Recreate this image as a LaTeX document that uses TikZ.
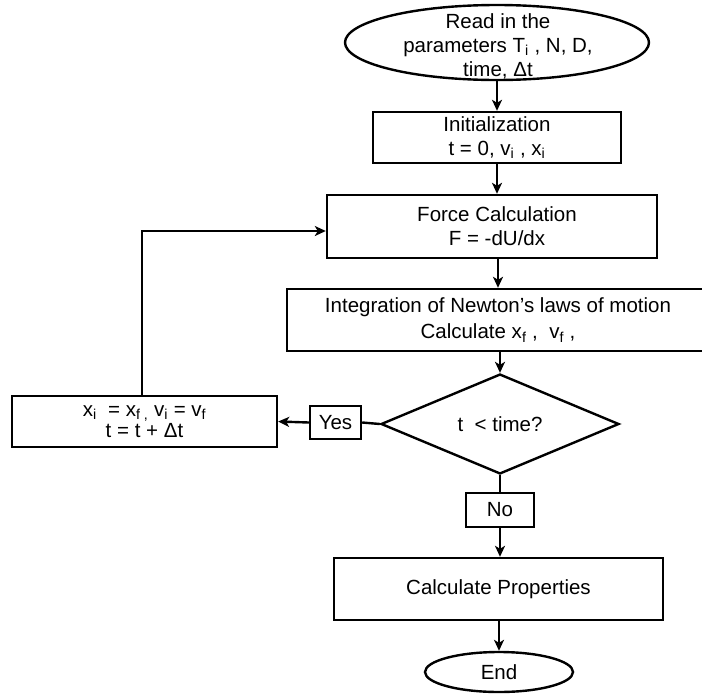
\documentclass[tikz,border=0pt]{standalone}
\usepackage{fontspec}
\setmainfont{Liberation Sans}
\usetikzlibrary{shapes.geometric,arrows.meta}
\begin{document}
\begin{tikzpicture}[x=1pt,y=-1pt,
  every node/.style={font=\fontsize{20.5}{24}\selectfont, align=center, inner sep=0pt},
  procbox/.style={draw, rectangle, line width=2.4pt},
  termshape/.style={draw, ellipse, line width=2.4pt},
  decide/.style={draw, diamond, line width=2.4pt},
  arrowline/.style={line width=2.4pt, -{Stealth[length=11pt,width=10pt,inset=3pt]}},
  plainline/.style={line width=2.4pt}]
\useasboundingbox (0,0) rectangle (702,694);

\node[termshape, minimum width=304pt, minimum height=75pt] (start) at (497,42.5) {};
\node (starttext) at (498,46) {Read in the\\parameters T\textsubscript{i} , N, D,\\time, Δt};

\node[procbox, minimum width=248pt, minimum height=51pt] (init) at (497,137.5)
  {Initialization\\t = 0, v\textsubscript{i} , x\textsubscript{i}};

\node[procbox, minimum width=330pt, minimum height=63pt] (force) at (492,226.5)
  {\hspace*{10pt}Force Calculation\\\hspace*{10pt}F = -dU/dx};

\node[procbox, minimum width=422pt, minimum height=62pt] (integ) at (498,320)
  {Integration of Newton’s laws of motion\\[2pt]Calculate x\textsubscript{f} ,~ v\textsubscript{f} ,};

\node[decide, minimum width=238pt, minimum height=78pt] (test) at (500,424) {t~~< time?};

\node[procbox, minimum width=51pt, minimum height=33pt] (yes) at (335.5,422.5) {Yes};

\node[procbox, minimum width=265pt, minimum height=51pt] (update) at (144.5,421.5)
  {x\textsubscript{i}~ = x\textsubscript{f ,} v\textsubscript{i} = v\textsubscript{f}\\[-3pt]t = t + Δt};

\node[procbox, minimum width=68pt, minimum height=34pt] (no) at (500,510) {No};

\node[procbox, minimum width=329pt, minimum height=62pt] (calc) at (498.5,589) {Calculate Properties};

\node[termshape, minimum width=148pt, minimum height=40pt] (stop) at (499,672) {End};

\coordinate (bend) at (142,231);

\draw[arrowline] (start.south) -- (init.north);
\draw[arrowline] (init.south) -- (init.south |- force.north);
\draw[arrowline] (integ.north |- force.south) -- (integ.north);
\draw[arrowline] (test.north |- integ.south) -- (test.north);
\draw[plainline] (test.west) -- (yes.east);
\draw[arrowline] (yes.west) -- (update.east);
\draw[arrowline] (update.north -| bend) -- (bend) -- (bend -| force.west);
\draw[plainline] (test.south) -- (no.north);
\draw[arrowline] (no.south) -- (no.south |- calc.north);
\draw[arrowline] (stop.north |- calc.south) -- (stop.north);
\end{tikzpicture}
\end{document}
